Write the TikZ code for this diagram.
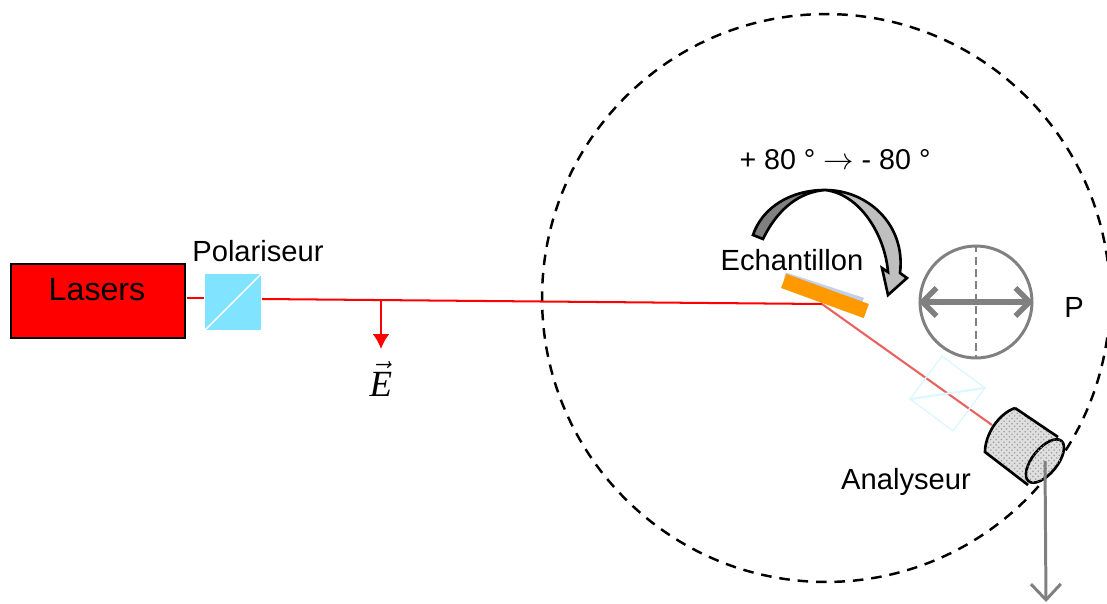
\documentclass[tikz,border=0pt]{standalone}
\usepackage{fontspec}
\setmainfont{Liberation Sans}
\newfontfamily\serifit[ItalicFont=Liberation Serif Italic]{Liberation Serif}
\usetikzlibrary{arrows.meta,patterns}
\definecolor{cubeblue}{HTML}{80E3FF}
\definecolor{palecyan}{HTML}{DDF7FF}
\definecolor{sampleorange}{HTML}{FF9900}
\definecolor{hazeblue}{HTML}{C3CFEC}
\tikzset{
  lbl/.style={font=\fontsize{16.6}{20}\selectfont, inner sep=0pt},
  beam/.style={draw=red, line width=1.15pt},
  greyline/.style={draw=gray, line width=1.7pt},
  thickout/.style={draw=black, line width=1.5pt}
}
\begin{document}
\begin{tikzpicture}[x=0.02cm,y=-0.02cm]
\useasboundingbox (0,0) rectangle (1107,603);
\node[circle, draw, dash pattern=on 6pt off 4.5pt, line width=1.4pt, minimum size=11.36cm, inner sep=0pt] (scan) at (826,298) {};
% source side
\node[draw, fill=red, line width=1.5pt, minimum width=3.48cm, minimum height=1.48cm, inner sep=0pt] (laser) at (98,301) {};
\node[lbl, font=\fontsize{18.3}{20}\selectfont] (lasertxt) at (97,290) {Lasers};
\node[fill=cubeblue, minimum size=1.12cm, inner sep=0pt] (cube) at (233,302) {};
\draw[white, line width=0.8pt] (cube.south west) -- (cube.north east);
\node[lbl] (poltxt) at (258,251) {Polariseur};
\coordinate (laserout) at (187,298);
\coordinate (cubein) at (204,298);
\coordinate (cubeout) at (262,299);
\coordinate (hit) at (822,304);
\coordinate (det) at (992,425);
\coordinate (efield) at (381,300);
\coordinate (etip) at (381,349);
\draw[beam] (laserout) -- (cubein);
\draw[beam] (cubeout) -- (hit);
\draw[draw=red, line width=1.15pt, -{Latex[length=8.5pt,width=9.5pt]}] (efield) -- (etip);
\node[inner sep=0pt, font=\fontsize{21}{22}\selectfont] (evec) at (381,379) {$\vec{\mbox{\serifit\itshape E}}$};
% sample
\node[fill=hazeblue, rotate=-18, minimum width=1.64cm, minimum height=0.12cm, inner sep=0pt] (haze) at (824,288) {};
\draw[red!75!gray, line width=1.2pt, opacity=0.7] (hit) -- (det);
\node[fill=sampleorange, rotate=-20, minimum width=1.76cm, minimum height=0.3cm, inner sep=0pt] (sample) at (825,296) {};
\node[lbl] (sampletxt) at (792,260) {Echantillon};
\node[lbl, font=\fontsize{16.3}{20}\selectfont] (angle) at (835,160) {+ 80 ° $\rightarrow$ - 80 °};
% rotation arrow
\filldraw[fill=gray, thickout] (753,235) .. controls (762,208) and (790,190) .. (825,190)
  .. controls (800,192) and (778,208) .. (763,239) -- cycle;
\filldraw[fill=gray!50, thickout] (825,190) .. controls (868,190) and (906,225) .. (900,273)
  -- (907,278) -- (888,295) -- (882,268) -- (888,272) .. controls (885,235) and (860,194) .. (825,190) -- cycle;
% polar circle
\node[circle, greyline, minimum size=2.24cm, inner sep=0pt] (polar) at (976,302) {};
\draw[gray, line width=1.4pt, dash pattern=on 4.5pt off 2.5pt] (polar.north) -- (polar.south);
\draw[gray, line width=3.2pt, {Straight Barb[length=8pt,width=16pt]}-{Straight Barb[length=8pt,width=16pt]}] (polar.west) -- (polar.east);
\node[lbl] (ptxt) at (1074,307) {P};
% analyser
\node[draw=palecyan, line width=0.8pt, rotate=-36.6, minimum size=1.07cm, inner sep=0pt] (anacube) at (947.5,393.5) {};
\draw[palecyan, line width=1.2pt] (anacube.south west) -- (anacube.north east);
\path[fill=gray!25, postaction={pattern=crosshatch dots, pattern color=gray!75}] (1015,408) -- (1058,437) -- (1060,445) -- (1028,485) -- (985,452)
  .. controls (985,435) and (998,414) .. (1015,408) -- cycle;
\draw[thickout] (1015,408) -- (1058,437) (1028,485) -- (985,452)
  .. controls (985,435) and (998,414) .. (1015,408);
\coordinate (detcentre) at (1045,461);
\coordinate (out) at (1046,602);
\filldraw[fill=gray!25, postaction={pattern=crosshatch dots, pattern color=gray!75}, thickout] (detcentre) ellipse [x radius=0.52cm, y radius=0.25cm, rotate=51];
\draw[gray, line width=1.7pt, -{Straight Barb[length=9pt,width=17pt]}] (detcentre) -- (out);
\node[lbl] (anatxt) at (906,482) {Analyseur};
\end{tikzpicture}
\end{document}
